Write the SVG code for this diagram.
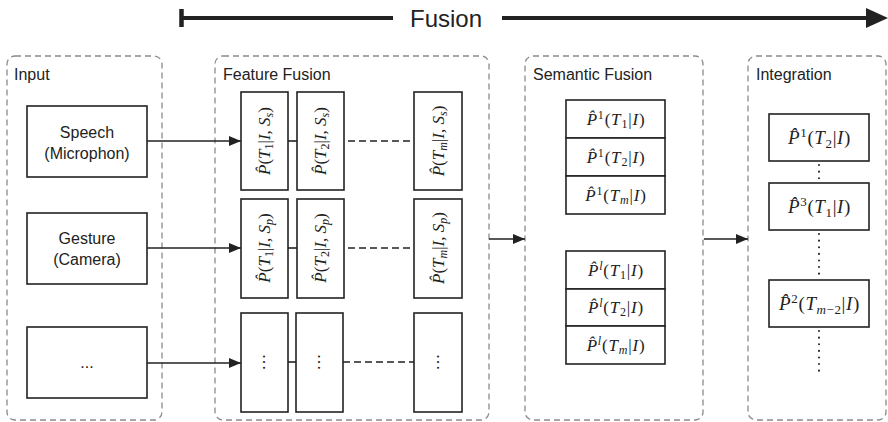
<svg xmlns="http://www.w3.org/2000/svg" width="888" height="422" viewBox="0 0 888 422">
<style>
.panel{fill:none;stroke:#8a8a8a;stroke-width:1.3;stroke-dasharray:6,4}
.box{fill:#fff;stroke:#222;stroke-width:1.6}
.lbl{font-family:"Liberation Sans",Arial,sans-serif;font-size:16px;fill:#222}
.txt{font-family:"Liberation Sans",Arial,sans-serif;font-size:16px;fill:#222;text-anchor:middle}
.m{font-family:"Liberation Serif","Times New Roman",serif;font-size:17px;fill:#222;text-anchor:middle}
.h{letter-spacing:0.8px}
.mi{font-family:"Liberation Serif","Times New Roman",serif;font-size:19px;fill:#222;text-anchor:middle;letter-spacing:0.6px}
.i{font-style:italic}
.s{font-size:12px}
.si{font-size:13px}
.conn{stroke:#222;stroke-width:1.6;fill:none}
.dash{stroke:#222;stroke-width:1.6;stroke-dasharray:7,4;fill:none}
.dot{stroke:#222;stroke-width:2;stroke-dasharray:0.1,6.5;stroke-linecap:round;fill:none}
</style>
<defs>
<marker id="ah" markerWidth="12" markerHeight="10" refX="12" refY="5" orient="auto" markerUnits="userSpaceOnUse">
<path d="M0,0 L12,5 L0,10 Z" fill="#222"/>
</marker>
</defs>

<g id="fusion">
<line x1="181.5" y1="9" x2="181.5" y2="27" stroke="#222" stroke-width="4.5"/>
<line x1="181.5" y1="18" x2="393" y2="18" stroke="#222" stroke-width="4"/>
<text x="446" y="27" font-family="Liberation Sans,Arial,sans-serif" font-size="24" fill="#222" text-anchor="middle">Fusion</text>
<line x1="502" y1="18" x2="868" y2="18" stroke="#222" stroke-width="4"/>
<path d="M866,8 L888,18 L866,28 Z" fill="#222"/>
</g>

<g id="input">
<rect class="panel" x="7" y="56" width="155" height="364" rx="8"/>
<text class="lbl" x="14" y="80">Input</text>
</g>
<g id="speech">
<rect class="box" x="27" y="106" width="120" height="71"/>
<text class="txt" x="87" y="138">Speech</text>
<text class="txt" x="87" y="159">(Microphon)</text>
</g>
<g id="gesture">
<rect class="box" x="27" y="213" width="120" height="71"/>
<text class="txt" x="87" y="244">Gesture</text>
<text class="txt" x="87" y="265">(Camera)</text>
</g>
<g id="other">
<rect class="box" x="27" y="327" width="120" height="71"/>
<text class="txt" x="87" y="368">...</text>
</g>

<g id="feature">
<rect class="panel" x="215" y="56" width="274" height="364" rx="8"/>
<text class="lbl" x="223" y="80">Feature Fusion</text>
</g>
<g id="f11"><rect class="box" x="241" y="92" width="47" height="98"/>
<text class="m" transform="translate(270,141) rotate(-90)"><tspan class="i">P&#x302;</tspan>(<tspan class="i">T</tspan><tspan class="s" dy="3">1</tspan><tspan dy="-3">|</tspan><tspan class="i">I, S</tspan><tspan class="s i" dy="3">s</tspan><tspan dy="-3">)</tspan></text></g>
<g id="f12"><rect class="box" x="297" y="92" width="47" height="98"/>
<text class="m" transform="translate(326,141) rotate(-90)"><tspan class="i">P&#x302;</tspan>(<tspan class="i">T</tspan><tspan class="s" dy="3">2</tspan><tspan dy="-3">|</tspan><tspan class="i">I, S</tspan><tspan class="s i" dy="3">s</tspan><tspan dy="-3">)</tspan></text></g>
<g id="f1m"><rect class="box" x="414" y="92" width="48" height="98"/>
<text class="m" transform="translate(444,141) rotate(-90)"><tspan class="i">P&#x302;</tspan>(<tspan class="i">T</tspan><tspan class="s i" dy="3">m</tspan><tspan dy="-3">|</tspan><tspan class="i">I, S</tspan><tspan class="s i" dy="3">s</tspan><tspan dy="-3">)</tspan></text></g>
<g id="f21"><rect class="box" x="241" y="199" width="47" height="99"/>
<text class="m" transform="translate(270,248) rotate(-90)"><tspan class="i">P&#x302;</tspan>(<tspan class="i">T</tspan><tspan class="s" dy="3">1</tspan><tspan dy="-3">|</tspan><tspan class="i">I, S</tspan><tspan class="s i" dy="3">p</tspan><tspan dy="-3">)</tspan></text></g>
<g id="f22"><rect class="box" x="297" y="199" width="47" height="99"/>
<text class="m" transform="translate(326,248) rotate(-90)"><tspan class="i">P&#x302;</tspan>(<tspan class="i">T</tspan><tspan class="s" dy="3">2</tspan><tspan dy="-3">|</tspan><tspan class="i">I, S</tspan><tspan class="s i" dy="3">p</tspan><tspan dy="-3">)</tspan></text></g>
<g id="f2m"><rect class="box" x="414" y="199" width="48" height="99"/>
<text class="m" transform="translate(444,248) rotate(-90)"><tspan class="i">P&#x302;</tspan>(<tspan class="i">T</tspan><tspan class="s i" dy="3">m</tspan><tspan dy="-3">|</tspan><tspan class="i">I, S</tspan><tspan class="s i" dy="3">p</tspan><tspan dy="-3">)</tspan></text></g>
<g id="f31"><rect class="box" x="241" y="313" width="47" height="99"/>
<text class="m" transform="translate(270,362) rotate(-90)">···</text></g>
<g id="f32"><rect class="box" x="296" y="313" width="47" height="99"/>
<text class="m" transform="translate(325,362) rotate(-90)">···</text></g>
<g id="f3m"><rect class="box" x="414" y="313" width="48" height="99"/>
<text class="m" transform="translate(444,362) rotate(-90)">···</text></g>

<g id="semantic">
<rect class="panel" x="525" y="56" width="178" height="364" rx="8"/>
<text class="lbl" x="533" y="80">Semantic Fusion</text>
</g>
<g id="s1"><rect class="box" x="566" y="100" width="99" height="38"/>
<text class="m h" x="616" y="125"><tspan class="i">P&#x302;</tspan><tspan class="s" dy="-6">1</tspan><tspan dy="6">(</tspan><tspan class="i">T</tspan><tspan class="s" dy="3">1</tspan><tspan dy="-3">|</tspan><tspan class="i">I</tspan>)</text></g>
<g id="s2"><rect class="box" x="566" y="138" width="99" height="38"/>
<text class="m h" x="616" y="163"><tspan class="i">P&#x302;</tspan><tspan class="s" dy="-6">1</tspan><tspan dy="6">(</tspan><tspan class="i">T</tspan><tspan class="s" dy="3">2</tspan><tspan dy="-3">|</tspan><tspan class="i">I</tspan>)</text></g>
<g id="s3"><rect class="box" x="566" y="176" width="99" height="38"/>
<text class="m h" x="616" y="201"><tspan class="i">P&#x302;</tspan><tspan class="s" dy="-6">1</tspan><tspan dy="6">(</tspan><tspan class="i">T</tspan><tspan class="s i" dy="3">m</tspan><tspan dy="-3">|</tspan><tspan class="i">I</tspan>)</text></g>
<g id="s4"><rect class="box" x="566" y="251" width="99" height="38"/>
<text class="m h" x="616" y="276"><tspan class="i">P&#x302;</tspan><tspan class="s i" dy="-6">l</tspan><tspan dy="6">(</tspan><tspan class="i">T</tspan><tspan class="s" dy="3">1</tspan><tspan dy="-3">|</tspan><tspan class="i">I</tspan>)</text></g>
<g id="s5"><rect class="box" x="566" y="289" width="99" height="37"/>
<text class="m h" x="616" y="313"><tspan class="i">P&#x302;</tspan><tspan class="s i" dy="-6">l</tspan><tspan dy="6">(</tspan><tspan class="i">T</tspan><tspan class="s" dy="3">2</tspan><tspan dy="-3">|</tspan><tspan class="i">I</tspan>)</text></g>
<g id="s6"><rect class="box" x="566" y="326" width="99" height="38"/>
<text class="m h" x="616" y="351"><tspan class="i">P&#x302;</tspan><tspan class="s i" dy="-6">l</tspan><tspan dy="6">(</tspan><tspan class="i">T</tspan><tspan class="s i" dy="3">m</tspan><tspan dy="-3">|</tspan><tspan class="i">I</tspan>)</text></g>

<g id="integration">
<rect class="panel" x="748" y="56" width="138" height="364" rx="8"/>
<text class="lbl" x="756" y="80">Integration</text>
</g>
<g id="i1"><rect class="box" x="769" y="114" width="100" height="47"/>
<text class="mi" x="819.5" y="144"><tspan class="i">P&#x302;</tspan><tspan class="si" dy="-7">1</tspan><tspan dy="7">(</tspan><tspan class="i">T</tspan><tspan class="si" dy="4">2</tspan><tspan dy="-4">|</tspan><tspan class="i">I</tspan>)</text></g>
<g id="i2"><rect class="box" x="769" y="183" width="100" height="47"/>
<text class="mi" x="819.5" y="213"><tspan class="i">P&#x302;</tspan><tspan class="si" dy="-7">3</tspan><tspan dy="7">(</tspan><tspan class="i">T</tspan><tspan class="si" dy="4">1</tspan><tspan dy="-4">|</tspan><tspan class="i">I</tspan>)</text></g>
<g id="i3"><rect class="box" x="769" y="280" width="100" height="47"/>
<text class="mi" x="819.5" y="310"><tspan class="i">P&#x302;</tspan><tspan class="si" dy="-7">2</tspan><tspan dy="7">(</tspan><tspan class="i">T</tspan><tspan class="si" dy="4"><tspan class="i">m</tspan>−2</tspan><tspan dy="-4">|</tspan><tspan class="i">I</tspan>)</text></g>

<g id="connectors">
<line class="conn" x1="147" y1="141" x2="241" y2="141" marker-end="url(#ah)"/>
<line class="conn" x1="147" y1="248" x2="241" y2="248" marker-end="url(#ah)"/>
<line class="conn" x1="147" y1="363" x2="241" y2="363" marker-end="url(#ah)"/>
<line class="conn" x1="288" y1="141" x2="297" y2="141"/>
<line class="dash" x1="348" y1="141" x2="414" y2="141"/>
<line class="conn" x1="288" y1="248" x2="297" y2="248"/>
<line class="dash" x1="348" y1="248" x2="414" y2="248"/>
<line class="conn" x1="288" y1="362" x2="296" y2="362"/>
<line class="dash" x1="343" y1="362" x2="414" y2="362"/>
<line class="conn" x1="489" y1="239" x2="525" y2="239" marker-end="url(#ah)"/>
<line class="conn" x1="704" y1="239" x2="748" y2="239" marker-end="url(#ah)"/>
<line class="dot" x1="819" y1="165" x2="819" y2="181"/>
<line class="dot" x1="819" y1="234" x2="819" y2="278"/>
<line class="dot" x1="819" y1="331" x2="819" y2="377"/>
</g>
</svg>
